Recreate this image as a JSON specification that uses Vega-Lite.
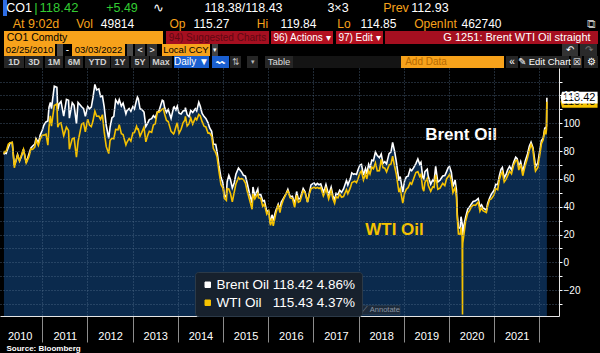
{
"$schema": "https://vega.github.io/schema/vega-lite/v6.json",
"background": "black",
"padding": 0,
"spacing": 0,
"data": {"values": [{"screen": "G 1251"}]},
"datasets": {
"oil": [
{"d":"2010-02-25","Brent":77.5,"WTI":78.2},{"d":"2010-03-01","Brent":78.7,"WTI":79.7},{"d":"2010-03-15","Brent":78.3,"WTI":79.8},{"d":"2010-04-01","Brent":82.7,"WTI":84.9},{"d":"2010-04-15","Brent":85.8,"WTI":86.0},{"d":"2010-05-03","Brent":86.2,"WTI":86.2},{"d":"2010-05-20","Brent":69.6,"WTI":68.0},{"d":"2010-06-01","Brent":72.6,"WTI":72.6},{"d":"2010-06-15","Brent":77.5,"WTI":77.0},{"d":"2010-07-01","Brent":72.9,"WTI":72.9},{"d":"2010-07-15","Brent":75.9,"WTI":76.6},{"d":"2010-08-02","Brent":81.3,"WTI":81.3},{"d":"2010-08-24","Brent":71.6,"WTI":71.6},{"d":"2010-09-15","Brent":78.0,"WTI":76.0},{"d":"2010-10-01","Brent":82.3,"WTI":81.6},{"d":"2010-10-15","Brent":83.7,"WTI":81.2},{"d":"2010-11-01","Brent":85.0,"WTI":82.9},{"d":"2010-11-11","Brent":89.0,"WTI":87.8},{"d":"2010-11-30","Brent":85.9,"WTI":84.1},{"d":"2010-12-15","Brent":91.5,"WTI":88.6},{"d":"2010-12-31","Brent":94.8,"WTI":91.4},
{"d":"2011-01-14","Brent":98.7,"WTI":91.5},{"d":"2011-01-31","Brent":101.0,"WTI":92.2},{"d":"2011-02-15","Brent":101.7,"WTI":84.3},{"d":"2011-02-24","Brent":111.4,"WTI":97.3},{"d":"2011-03-07","Brent":115.0,"WTI":105.4},{"d":"2011-03-16","Brent":110.6,"WTI":98.0},{"d":"2011-04-08","Brent":126.7,"WTI":112.8},{"d":"2011-04-29","Brent":125.9,"WTI":113.9},{"d":"2011-05-06","Brent":109.1,"WTI":97.2},{"d":"2011-05-16","Brent":113.8,"WTI":99.6},{"d":"2011-06-01","Brent":115.7,"WTI":100.3},{"d":"2011-06-23","Brent":105.1,"WTI":91.0},{"d":"2011-07-15","Brent":117.2,"WTI":97.2},{"d":"2011-08-01","Brent":116.5,"WTI":94.9},{"d":"2011-08-08","Brent":103.7,"WTI":81.3},{"d":"2011-08-31","Brent":114.8,"WTI":88.8},{"d":"2011-09-15","Brent":112.9,"WTI":89.4},{"d":"2011-10-04","Brent":99.8,"WTI":75.7},{"d":"2011-10-17","Brent":114.9,"WTI":86.8},{"d":"2011-11-15","Brent":111.9,"WTI":99.4},{"d":"2011-12-01","Brent":110.5,"WTI":100.2},{"d":"2011-12-15","Brent":105.0,"WTI":93.9},
{"d":"2012-01-03","Brent":112.1,"WTI":103.0},{"d":"2012-01-17","Brent":110.4,"WTI":98.7},{"d":"2012-02-01","Brent":111.6,"WTI":97.6},{"d":"2012-02-15","Brent":118.6,"WTI":101.8},{"d":"2012-03-01","Brent":128.0,"WTI":108.8},{"d":"2012-03-15","Brent":124.0,"WTI":105.1},{"d":"2012-04-02","Brent":124.8,"WTI":105.2},{"d":"2012-04-16","Brent":119.2,"WTI":102.9},{"d":"2012-05-01","Brent":119.7,"WTI":106.2},{"d":"2012-05-15","Brent":112.0,"WTI":94.0},{"d":"2012-06-01","Brent":98.4,"WTI":83.2},{"d":"2012-06-21","Brent":89.2,"WTI":78.2},{"d":"2012-07-02","Brent":97.3,"WTI":87.7},{"d":"2012-07-17","Brent":104.0,"WTI":89.2},{"d":"2012-08-01","Brent":105.0,"WTI":88.9},{"d":"2012-08-16","Brent":116.9,"WTI":95.6},{"d":"2012-09-04","Brent":114.2,"WTI":95.3},{"d":"2012-09-14","Brent":117.0,"WTI":99.0},{"d":"2012-10-01","Brent":112.4,"WTI":92.5},{"d":"2012-10-15","Brent":114.6,"WTI":91.9},{"d":"2012-11-07","Brent":106.8,"WTI":84.4},{"d":"2012-11-15","Brent":109.0,"WTI":86.3},{"d":"2012-12-03","Brent":110.6,"WTI":89.1},{"d":"2012-12-17","Brent":108.6,"WTI":87.2},
{"d":"2013-01-02","Brent":112.0,"WTI":93.1},{"d":"2013-01-15","Brent":110.3,"WTI":93.3},{"d":"2013-02-01","Brent":116.8,"WTI":97.8},{"d":"2013-02-08","Brent":118.9,"WTI":95.7},{"d":"2013-02-15","Brent":117.7,"WTI":95.9},{"d":"2013-03-01","Brent":110.4,"WTI":90.7},{"d":"2013-03-15","Brent":110.0,"WTI":93.5},{"d":"2013-04-02","Brent":108.1,"WTI":97.2},{"d":"2013-04-17","Brent":97.7,"WTI":86.7},{"d":"2013-05-01","Brent":100.0,"WTI":91.0},{"d":"2013-05-15","Brent":102.7,"WTI":94.3},{"d":"2013-06-03","Brent":103.3,"WTI":93.5},{"d":"2013-06-17","Brent":105.5,"WTI":98.8},{"d":"2013-07-02","Brent":104.0,"WTI":99.6},{"d":"2013-07-19","Brent":108.1,"WTI":108.1},{"d":"2013-08-01","Brent":108.9,"WTI":107.9},{"d":"2013-08-28","Brent":116.6,"WTI":110.1},{"d":"2013-09-06","Brent":116.1,"WTI":110.5},{"d":"2013-09-16","Brent":111.3,"WTI":106.6},{"d":"2013-10-01","Brent":107.9,"WTI":102.0},{"d":"2013-10-15","Brent":110.0,"WTI":101.2},{"d":"2013-11-07","Brent":103.5,"WTI":94.2},{"d":"2013-11-27","Brent":111.4,"WTI":92.3},{"d":"2013-12-02","Brent":111.8,"WTI":93.1},{"d":"2013-12-16","Brent":109.5,"WTI":97.5},{"d":"2013-12-27","Brent":112.2,"WTI":100.3},
{"d":"2014-01-10","Brent":107.3,"WTI":92.7},{"d":"2014-01-27","Brent":106.7,"WTI":95.7},{"d":"2014-02-12","Brent":108.8,"WTI":100.4},{"d":"2014-02-27","Brent":109.1,"WTI":102.4},{"d":"2014-03-03","Brent":111.2,"WTI":104.9},{"d":"2014-03-17","Brent":106.2,"WTI":98.1},{"d":"2014-04-01","Brent":104.8,"WTI":99.7},{"d":"2014-04-15","Brent":109.3,"WTI":103.8},{"d":"2014-05-01","Brent":107.8,"WTI":99.4},{"d":"2014-05-22","Brent":110.5,"WTI":103.8},{"d":"2014-06-02","Brent":108.9,"WTI":102.5},{"d":"2014-06-19","Brent":115.1,"WTI":106.4},{"d":"2014-07-01","Brent":112.3,"WTI":105.3},{"d":"2014-07-16","Brent":107.1,"WTI":101.2},{"d":"2014-08-01","Brent":104.8,"WTI":97.9},{"d":"2014-08-15","Brent":103.5,"WTI":97.4},{"d":"2014-09-02","Brent":100.3,"WTI":92.9},{"d":"2014-09-15","Brent":96.7,"WTI":92.9},{"d":"2014-10-01","Brent":94.2,"WTI":90.7},{"d":"2014-10-15","Brent":85.0,"WTI":81.8},{"d":"2014-11-03","Brent":84.8,"WTI":78.8},{"d":"2014-11-14","Brent":79.4,"WTI":75.8},{"d":"2014-11-28","Brent":70.2,"WTI":66.2},{"d":"2014-12-15","Brent":61.1,"WTI":55.9},{"d":"2014-12-31","Brent":57.3,"WTI":53.3},
{"d":"2015-01-13","Brent":46.6,"WTI":45.9},{"d":"2015-01-28","Brent":48.5,"WTI":44.5},{"d":"2015-02-03","Brent":57.9,"WTI":53.0},{"d":"2015-02-17","Brent":62.5,"WTI":52.8},{"d":"2015-03-02","Brent":59.5,"WTI":49.6},{"d":"2015-03-17","Brent":53.5,"WTI":43.5},{"d":"2015-04-01","Brent":57.1,"WTI":50.1},{"d":"2015-04-15","Brent":63.3,"WTI":56.4},{"d":"2015-05-06","Brent":67.8,"WTI":60.9},{"d":"2015-05-15","Brent":66.8,"WTI":59.7},{"d":"2015-06-01","Brent":64.9,"WTI":60.2},{"d":"2015-06-15","Brent":62.6,"WTI":59.5},{"d":"2015-07-01","Brent":62.0,"WTI":57.0},{"d":"2015-07-15","Brent":57.1,"WTI":51.4},{"d":"2015-08-03","Brent":49.5,"WTI":45.2},{"d":"2015-08-24","Brent":42.7,"WTI":38.2},{"d":"2015-08-31","Brent":54.2,"WTI":49.2},{"d":"2015-09-15","Brent":47.8,"WTI":45.6},{"d":"2015-10-09","Brent":52.7,"WTI":49.6},{"d":"2015-10-15","Brent":48.7,"WTI":46.4},{"d":"2015-11-02","Brent":48.8,"WTI":46.1},{"d":"2015-11-18","Brent":44.1,"WTI":40.2},{"d":"2015-12-01","Brent":44.4,"WTI":41.9},{"d":"2015-12-21","Brent":36.4,"WTI":34.7},
{"d":"2016-01-04","Brent":37.2,"WTI":36.8},{"d":"2016-01-20","Brent":27.9,"WTI":26.6},{"d":"2016-02-01","Brent":34.2,"WTI":31.6},{"d":"2016-02-11","Brent":30.1,"WTI":26.2},{"d":"2016-03-01","Brent":36.8,"WTI":34.4},{"d":"2016-03-22","Brent":41.8,"WTI":41.5},{"d":"2016-04-05","Brent":37.9,"WTI":35.7},{"d":"2016-04-15","Brent":43.1,"WTI":40.4},{"d":"2016-05-02","Brent":45.8,"WTI":44.8},{"d":"2016-05-26","Brent":49.6,"WTI":49.5},{"d":"2016-06-08","Brent":52.5,"WTI":51.2},{"d":"2016-06-27","Brent":47.2,"WTI":46.3},{"d":"2016-07-15","Brent":47.6,"WTI":45.9},{"d":"2016-08-02","Brent":42.1,"WTI":39.5},{"d":"2016-08-18","Brent":50.9,"WTI":48.2},{"d":"2016-09-01","Brent":45.5,"WTI":43.2},{"d":"2016-09-15","Brent":45.8,"WTI":43.9},{"d":"2016-10-10","Brent":53.1,"WTI":51.4},{"d":"2016-10-25","Brent":50.8,"WTI":50.0},{"d":"2016-11-14","Brent":43.3,"WTI":43.3},{"d":"2016-11-30","Brent":50.5,"WTI":49.4},{"d":"2016-12-12","Brent":55.7,"WTI":52.8},{"d":"2016-12-30","Brent":56.8,"WTI":53.7},
{"d":"2017-01-06","Brent":57.1,"WTI":54.0},{"d":"2017-01-20","Brent":55.5,"WTI":53.2},{"d":"2017-02-01","Brent":56.8,"WTI":53.9},{"d":"2017-02-15","Brent":55.8,"WTI":53.1},{"d":"2017-03-01","Brent":56.4,"WTI":53.8},{"d":"2017-03-22","Brent":50.6,"WTI":47.7},{"d":"2017-04-03","Brent":53.1,"WTI":50.2},{"d":"2017-04-12","Brent":55.9,"WTI":53.1},{"d":"2017-05-04","Brent":48.4,"WTI":45.5},{"d":"2017-05-24","Brent":54.0,"WTI":51.4},{"d":"2017-06-07","Brent":47.9,"WTI":45.7},{"d":"2017-06-21","Brent":44.8,"WTI":42.5},{"d":"2017-07-03","Brent":49.7,"WTI":47.1},{"d":"2017-07-18","Brent":48.8,"WTI":46.4},{"d":"2017-08-01","Brent":51.8,"WTI":49.2},{"d":"2017-08-16","Brent":50.3,"WTI":46.8},{"d":"2017-09-01","Brent":52.8,"WTI":47.3},{"d":"2017-09-25","Brent":59.0,"WTI":52.2},{"d":"2017-10-06","Brent":55.6,"WTI":49.3},{"d":"2017-10-27","Brent":60.4,"WTI":53.9},{"d":"2017-11-07","Brent":64.3,"WTI":57.2},{"d":"2017-11-22","Brent":63.3,"WTI":58.0},{"d":"2017-12-01","Brent":63.7,"WTI":58.4},{"d":"2017-12-15","Brent":63.2,"WTI":57.3},{"d":"2017-12-29","Brent":66.9,"WTI":60.4},
{"d":"2018-01-12","Brent":70.0,"WTI":64.3},{"d":"2018-01-24","Brent":70.5,"WTI":65.6},{"d":"2018-02-09","Brent":62.8,"WTI":59.2},{"d":"2018-02-26","Brent":67.5,"WTI":63.9},{"d":"2018-03-08","Brent":63.6,"WTI":60.1},{"d":"2018-03-23","Brent":70.5,"WTI":65.9},{"d":"2018-04-03","Brent":68.1,"WTI":63.5},{"d":"2018-04-18","Brent":73.5,"WTI":68.5},{"d":"2018-05-01","Brent":73.1,"WTI":67.3},{"d":"2018-05-17","Brent":79.3,"WTI":71.5},{"d":"2018-06-01","Brent":76.8,"WTI":65.8},{"d":"2018-06-18","Brent":75.3,"WTI":65.9},{"d":"2018-07-03","Brent":77.8,"WTI":74.1},{"d":"2018-07-17","Brent":71.2,"WTI":68.1},{"d":"2018-08-01","Brent":72.4,"WTI":67.7},{"d":"2018-08-15","Brent":70.8,"WTI":65.0},{"d":"2018-09-04","Brent":78.2,"WTI":69.9},{"d":"2018-09-20","Brent":79.4,"WTI":70.8},{"d":"2018-10-03","Brent":86.3,"WTI":76.4},{"d":"2018-10-19","Brent":79.8,"WTI":69.1},{"d":"2018-11-01","Brent":72.9,"WTI":63.7},{"d":"2018-11-23","Brent":58.8,"WTI":50.4},{"d":"2018-12-03","Brent":61.7,"WTI":53.0},{"d":"2018-12-24","Brent":50.5,"WTI":42.5},
{"d":"2019-01-08","Brent":58.7,"WTI":49.8},{"d":"2019-01-22","Brent":61.5,"WTI":52.6},{"d":"2019-02-05","Brent":62.0,"WTI":53.7},{"d":"2019-02-22","Brent":67.1,"WTI":57.3},{"d":"2019-03-06","Brent":65.9,"WTI":56.2},{"d":"2019-03-21","Brent":67.9,"WTI":60.0},{"d":"2019-04-09","Brent":71.0,"WTI":64.6},{"d":"2019-04-25","Brent":74.4,"WTI":65.2},{"d":"2019-05-10","Brent":70.6,"WTI":61.7},{"d":"2019-05-20","Brent":72.0,"WTI":63.1},{"d":"2019-06-03","Brent":61.3,"WTI":53.3},{"d":"2019-06-12","Brent":60.0,"WTI":51.1},{"d":"2019-06-21","Brent":65.2,"WTI":57.4},{"d":"2019-07-10","Brent":67.0,"WTI":60.4},{"d":"2019-07-18","Brent":61.9,"WTI":55.3},{"d":"2019-08-07","Brent":56.2,"WTI":51.1},{"d":"2019-08-23","Brent":59.3,"WTI":54.2},{"d":"2019-09-03","Brent":58.3,"WTI":53.9},{"d":"2019-09-16","Brent":69.0,"WTI":62.9},{"d":"2019-10-03","Brent":57.7,"WTI":52.5},{"d":"2019-10-21","Brent":59.0,"WTI":53.3},{"d":"2019-11-12","Brent":62.1,"WTI":56.8},{"d":"2019-11-29","Brent":62.4,"WTI":55.2},{"d":"2019-12-13","Brent":65.2,"WTI":60.1},{"d":"2019-12-27","Brent":68.2,"WTI":61.7},
{"d":"2020-01-06","Brent":68.9,"WTI":63.3},{"d":"2020-01-21","Brent":64.6,"WTI":58.4},{"d":"2020-02-03","Brent":54.5,"WTI":50.1},{"d":"2020-02-20","Brent":59.3,"WTI":53.8},{"d":"2020-03-02","Brent":51.9,"WTI":46.8},{"d":"2020-03-09","Brent":34.4,"WTI":31.1},{"d":"2020-03-18","Brent":24.9,"WTI":20.4},{"d":"2020-04-01","Brent":24.7,"WTI":20.3},{"d":"2020-04-08","Brent":32.8,"WTI":25.1},{"d":"2020-04-17","Brent":28.1,"WTI":18.3},{"d":"2020-04-20","Brent":25.6,"WTI":-37.63},{"d":"2020-04-21","Brent":19.3,"WTI":10.0},{"d":"2020-04-22","Brent":20.4,"WTI":13.8},{"d":"2020-05-01","Brent":26.4,"WTI":19.8},{"d":"2020-05-15","Brent":32.5,"WTI":29.4},{"d":"2020-06-01","Brent":38.3,"WTI":35.4},{"d":"2020-06-15","Brent":39.7,"WTI":37.1},{"d":"2020-07-01","Brent":42.0,"WTI":39.8},{"d":"2020-07-15","Brent":43.8,"WTI":41.2},{"d":"2020-08-03","Brent":44.2,"WTI":41.0},{"d":"2020-08-25","Brent":45.9,"WTI":43.4},{"d":"2020-09-08","Brent":39.8,"WTI":36.8},{"d":"2020-09-21","Brent":41.4,"WTI":39.3},{"d":"2020-10-02","Brent":39.3,"WTI":37.1},{"d":"2020-10-30","Brent":37.5,"WTI":35.8},{"d":"2020-11-09","Brent":42.4,"WTI":40.3},{"d":"2020-11-24","Brent":46.1,"WTI":44.9},{"d":"2020-12-08","Brent":48.8,"WTI":45.6},{"d":"2020-12-31","Brent":51.8,"WTI":48.5},
{"d":"2021-01-13","Brent":56.1,"WTI":53.0},{"d":"2021-01-29","Brent":55.9,"WTI":52.2},{"d":"2021-02-12","Brent":62.4,"WTI":59.5},{"d":"2021-02-25","Brent":66.9,"WTI":63.5},{"d":"2021-03-08","Brent":68.2,"WTI":65.1},{"d":"2021-03-23","Brent":60.8,"WTI":57.8},{"d":"2021-04-07","Brent":63.2,"WTI":59.8},{"d":"2021-04-20","Brent":66.6,"WTI":62.4},{"d":"2021-05-05","Brent":69.0,"WTI":65.6},{"d":"2021-05-21","Brent":66.4,"WTI":63.6},{"d":"2021-06-08","Brent":72.2,"WTI":70.1},{"d":"2021-06-24","Brent":75.6,"WTI":73.3},{"d":"2021-07-06","Brent":74.5,"WTI":73.4},{"d":"2021-07-19","Brent":68.6,"WTI":66.4},{"d":"2021-08-03","Brent":72.4,"WTI":70.6},{"d":"2021-08-20","Brent":65.2,"WTI":62.3},{"d":"2021-09-08","Brent":72.6,"WTI":69.3},{"d":"2021-09-28","Brent":78.1,"WTI":75.3},{"d":"2021-10-12","Brent":83.4,"WTI":80.6},{"d":"2021-10-26","Brent":86.4,"WTI":84.7},{"d":"2021-11-10","Brent":82.6,"WTI":81.3},{"d":"2021-11-26","Brent":72.7,"WTI":68.2},{"d":"2021-12-01","Brent":68.9,"WTI":65.6},{"d":"2021-12-20","Brent":71.5,"WTI":68.2},
{"d":"2022-01-04","Brent":80.0,"WTI":77.0},{"d":"2022-01-18","Brent":87.5,"WTI":85.4},{"d":"2022-02-01","Brent":89.2,"WTI":88.2},{"d":"2022-02-14","Brent":96.5,"WTI":95.5},{"d":"2022-02-23","Brent":96.8,"WTI":92.1},{"d":"2022-02-28","Brent":98.0,"WTI":95.7},{"d":"2022-03-01","Brent":105.0,"WTI":103.4},{"d":"2022-03-02","Brent":112.9,"WTI":110.6},{"d":"2022-03-03","Brent":118.42,"WTI":115.43}
],
"last": [{"series":"WTI","last":115.43},{"series":"Brent","last":118.42}]
},
"vconcat": [
{"hconcat": [
{"width":3,"height":16,"mark":{"type":"text","text":""}},
{"width":4,"height":16,"view":{"fill":"#2f6ee6"},"mark":{"type":"text","text":""}},
{"width":3,"height":16,"mark":{"type":"text","text":""}},
{"width":18,"height":16,"mark":{"type":"text","text":"CO1","color":"white","fontSize":12.5}},
{"width":6,"height":16,"mark":{"type":"text","text":""}},
{"width":4,"height":16,"mark":{"type":"text","text":"|","color":"#33cc33","fontSize":13}},
{"width":42,"height":16,"mark":{"type":"text","text":"118.42","color":"#33cc33","fontSize":13}},
{"width":25,"height":16,"mark":{"type":"text","text":""}},
{"width":34,"height":16,"mark":{"type":"text","text":"+5.49","color":"#33cc33","fontSize":12.5}},
{"width":7,"height":16,"mark":{"type":"text","text":""}},
{"width":25,"height":16,"mark":{"type":"text","text":"∿","color":"white","fontSize":13}},
{"width":30,"height":16,"mark":{"type":"text","text":""}},
{"width":85,"height":16,"mark":{"type":"text","text":"118.38/118.43","color":"white","fontSize":12.5}},
{"width":39,"height":16,"mark":{"type":"text","text":""}},
{"width":26,"height":16,"mark":{"type":"text","text":"3×3","color":"white","fontSize":12.5}},
{"width":29,"height":16,"mark":{"type":"text","text":""}},
{"width":32,"height":16,"mark":{"type":"text","text":"Prev","color":"#f7a21b","fontSize":12.5}},
{"width":36,"height":16,"mark":{"type":"text","text":"112.93","color":"white","fontSize":12.5}},
{"width":152,"height":16,"mark":{"type":"text","text":""}}
], "spacing": 0, "bounds": "flush"},
{"hconcat": [
{"width":10,"height":15,"mark":{"type":"text","text":""}},
{"width":52,"height":15,"mark":{"type":"text","text":"At 9:02d","color":"#f7a21b","fontSize":12.5}},
{"width":12,"height":15,"mark":{"type":"text","text":""}},
{"width":21,"height":15,"mark":{"type":"text","text":"Vol","color":"#f7a21b","fontSize":12}},
{"width":5,"height":15,"mark":{"type":"text","text":""}},
{"width":35,"height":15,"mark":{"type":"text","text":"49814","color":"white","fontSize":12}},
{"width":33,"height":15,"mark":{"type":"text","text":""}},
{"width":19,"height":15,"mark":{"type":"text","text":"Op","color":"#f7a21b","fontSize":12}},
{"width":4,"height":15,"mark":{"type":"text","text":""}},
{"width":41,"height":15,"mark":{"type":"text","text":"115.27","color":"white","fontSize":12}},
{"width":23,"height":15,"mark":{"type":"text","text":""}},
{"width":15,"height":15,"mark":{"type":"text","text":"Hi","color":"#f7a21b","fontSize":12}},
{"width":8,"height":15,"mark":{"type":"text","text":""}},
{"width":41,"height":15,"mark":{"type":"text","text":"119.84","color":"white","fontSize":12}},
{"width":17,"height":15,"mark":{"type":"text","text":""}},
{"width":16,"height":15,"mark":{"type":"text","text":"Lo","color":"#f7a21b","fontSize":12}},
{"width":6,"height":15,"mark":{"type":"text","text":""}},
{"width":41,"height":15,"mark":{"type":"text","text":"114.85","color":"white","fontSize":12}},
{"width":12,"height":15,"mark":{"type":"text","text":""}},
{"width":49,"height":15,"mark":{"type":"text","text":"OpenInt","color":"#f7a21b","fontSize":12}},
{"width":43,"height":15,"mark":{"type":"text","text":"462740","color":"white","fontSize":12}},
{"width":80,"height":15,"mark":{"type":"text","text":""}},
{"width":16,"height":15,"mark":{"type":"text","text":"⧉","color":"#bbbbbb","fontSize":12}},
{"width":1,"height":15,"mark":{"type":"text","text":""}}
], "spacing": 0, "bounds": "flush"},
{"hconcat": [
{"width":4,"height":13,"mark":{"type":"text","text":""}},
{"width":66,"height":13,"view":{"fill":"#f7a21b"},"mark":{"type":"text","text":"CO1 Comdty","color":"black","fontSize":10.5}},
{"width":93,"height":13,"view":{"fill":"#f7a21b"},"mark":{"type":"text","text":""}},
{"width":3,"height":13,"mark":{"type":"text","text":""}},
{"width":103,"height":13,"view":{"fill":"#a50f20"},"mark":{"type":"text","text":"94) Suggested Charts","color":"#600812","fontSize":10}},
{"width":2,"height":13,"mark":{"type":"text","text":""}},
{"width":62,"height":13,"view":{"fill":"#b3101f"},"mark":{"type":"text","text":"96) Actions ▾","color":"white","fontSize":10}},
{"width":3,"height":13,"mark":{"type":"text","text":""}},
{"width":47,"height":13,"view":{"fill":"#b3101f"},"mark":{"type":"text","text":"97) Edit ▾","color":"white","fontSize":10}},
{"width":2,"height":13,"mark":{"type":"text","text":""}},
{"width":55,"height":13,"view":{"fill":"#a50f20"},"mark":{"type":"text","text":""}},
{"width":154,"height":13,"view":{"fill":"#a50f20"},"mark":{"type":"text","text":"G 1251: Brent WTI Oil straight","color":"white","fontSize":11}},
{"width":4,"height":13,"view":{"fill":"#a50f20"},"mark":{"type":"text","text":""}},
{"width":2,"height":13,"mark":{"type":"text","text":""}}
], "spacing": 0, "bounds": "flush"},
{"hconcat": [
{"width":4,"height":12,"mark":{"type":"text","text":""}},
{"width":51,"height":12,"view":{"fill":"#f7a21b"},"mark":{"type":"text","text":"02/25/2010","color":"black","fontSize":9.5}},
{"width":2,"height":12,"mark":{"type":"text","text":""}},
{"width":6,"height":12,"view":{"fill":"#4a4a4a"},"mark":{"type":"text","text":""}},
{"width":9,"height":12,"mark":{"type":"text","text":"-","color":"white","fontSize":10}},
{"width":53,"height":12,"view":{"fill":"#f7a21b"},"mark":{"type":"text","text":"03/03/2022","color":"black","fontSize":9.5}},
{"width":2,"height":12,"mark":{"type":"text","text":""}},
{"width":6,"height":12,"view":{"fill":"#4a4a4a"},"mark":{"type":"text","text":""}},
{"width":2,"height":12,"mark":{"type":"text","text":""}},
{"width":10,"height":12,"view":{"fill":"#333333"},"mark":{"type":"text","text":"<","color":"white","fontSize":9}},
{"width":2,"height":12,"mark":{"type":"text","text":""}},
{"width":10,"height":12,"view":{"fill":"#333333"},"mark":{"type":"text","text":">","color":"white","fontSize":9}},
{"width":5,"height":12,"mark":{"type":"text","text":""}},
{"width":48,"height":12,"view":{"fill":"#f7a21b"},"mark":{"type":"text","text":"Local CCY","color":"black","fontSize":9.5}},
{"width":2,"height":12,"mark":{"type":"text","text":""}},
{"width":6,"height":12,"view":{"fill":"#444444"},"mark":{"type":"text","text":"▾","color":"white","fontSize":7}},
{"width":344,"height":12,"mark":{"type":"text","text":""}},
{"width":16,"height":12,"view":{"fill":"#333333"},"mark":{"type":"text","text":"↶","color":"white","fontSize":10}},
{"width":2,"height":12,"mark":{"type":"text","text":""}},
{"width":17,"height":12,"view":{"fill":"#2a2a2a"},"mark":{"type":"text","text":"↷","color":"#777777","fontSize":10}},
{"width":3,"height":12,"mark":{"type":"text","text":""}}
], "spacing": 0, "bounds": "flush"},
{"hconcat": [
{"width":4,"height":12,"mark":{"type":"text","text":""}},
{"width":20,"height":12,"view":{"fill":"#262626"},"mark":{"type":"text","text":"1D","color":"#d0d0d0","fontSize":9,"fontWeight":"bold"}},
{"width":1,"height":12,"mark":{"type":"text","text":""}},
{"width":18,"height":12,"view":{"fill":"#262626"},"mark":{"type":"text","text":"3D","color":"#d0d0d0","fontSize":9,"fontWeight":"bold"}},
{"width":2,"height":12,"mark":{"type":"text","text":""}},
{"width":18,"height":12,"view":{"fill":"#262626"},"mark":{"type":"text","text":"1M","color":"#d0d0d0","fontSize":9,"fontWeight":"bold"}},
{"width":2,"height":12,"mark":{"type":"text","text":""}},
{"width":18,"height":12,"view":{"fill":"#262626"},"mark":{"type":"text","text":"6M","color":"#d0d0d0","fontSize":9,"fontWeight":"bold"}},
{"width":2,"height":12,"mark":{"type":"text","text":""}},
{"width":25,"height":12,"view":{"fill":"#262626"},"mark":{"type":"text","text":"YTD","color":"#d0d0d0","fontSize":9,"fontWeight":"bold"}},
{"width":1,"height":12,"mark":{"type":"text","text":""}},
{"width":18,"height":12,"view":{"fill":"#262626"},"mark":{"type":"text","text":"1Y","color":"#d0d0d0","fontSize":9,"fontWeight":"bold"}},
{"width":2,"height":12,"mark":{"type":"text","text":""}},
{"width":18,"height":12,"view":{"fill":"#262626"},"mark":{"type":"text","text":"5Y","color":"#d0d0d0","fontSize":9,"fontWeight":"bold"}},
{"width":1,"height":12,"mark":{"type":"text","text":""}},
{"width":22,"height":12,"view":{"fill":"#262626"},"mark":{"type":"text","text":"Max","color":"#d0d0d0","fontSize":9,"fontWeight":"bold"}},
{"width":2,"height":12,"mark":{"type":"text","text":""}},
{"width":35,"height":12,"view":{"fill":"#1a5fd0"},"mark":{"type":"text","text":"Daily ▼","color":"white","fontSize":10}},
{"width":3,"height":12,"mark":{"type":"text","text":""}},
{"width":17,"height":12,"view":{"fill":"#1a5fd0"},"mark":{"type":"text","text":"〰","color":"white","fontSize":9}},
{"width":1,"height":12,"mark":{"type":"text","text":""}},
{"width":11,"height":12,"view":{"fill":"#262626"},"mark":{"type":"text","text":"⇅","color":"#bbbbbb","fontSize":9}},
{"width":6,"height":12,"mark":{"type":"text","text":""}},
{"width":11,"height":12,"view":{"fill":"#262626"},"mark":{"type":"text","text":"▾","color":"#bbbbbb","fontSize":7}},
{"width":7,"height":12,"mark":{"type":"text","text":""}},
{"width":28,"height":12,"view":{"fill":"#262626"},"mark":{"type":"text","text":"Table","color":"#dddddd","fontSize":9.5}},
{"width":108,"height":12,"view":{"fill":"#141414"},"mark":{"type":"text","text":""}},
{"width":50,"height":12,"view":{"fill":"#f7a21b"},"mark":{"type":"text","text":"Add Data","color":"#b86a00","fontSize":10}},
{"width":53,"height":12,"view":{"fill":"#f7a21b"},"mark":{"type":"text","text":""}},
{"width":2,"height":12,"mark":{"type":"text","text":""}},
{"width":12,"height":12,"view":{"fill":"#262626"},"mark":{"type":"text","text":"«","color":"white","fontSize":10}},
{"width":2,"height":12,"mark":{"type":"text","text":""}},
{"width":49,"height":12,"view":{"fill":"#262626"},"mark":{"type":"text","text":"✎ Edit Chart","color":"white","fontSize":9.5}},
{"width":2,"height":12,"mark":{"type":"text","text":""}},
{"width":11,"height":12,"view":{"fill":"#262626"},"mark":{"type":"text","text":"☒","color":"white","fontSize":9}},
{"width":2,"height":12,"mark":{"type":"text","text":""}},
{"width":14,"height":12,"view":{"fill":"#262626"},"mark":{"type":"text","text":"⚙","color":"white","fontSize":10}},
{"width":2,"height":12,"mark":{"type":"text","text":""}}
], "spacing": 0, "bounds": "flush"},
{
"width": 559,
"height": 248,
"data": {"name": "oil"},
"layer": [
{
"mark": {"type": "area", "color": "#0b2a4d"},
"encoding": {
"x": {"field": "d", "type": "temporal",
 "scale": {"type": "utc", "domain": [{"year":2010,"month":1,"date":24,"utc":true},{"year":2022,"month":6,"date":9,"utc":true}]},
 "axis": {"orient": "bottom",
  "values": [{"year":2011,"month":1,"date":1,"utc":true},{"year":2012,"month":1,"date":1,"utc":true},{"year":2013,"month":1,"date":1,"utc":true},{"year":2014,"month":1,"date":1,"utc":true},{"year":2015,"month":1,"date":1,"utc":true},{"year":2016,"month":1,"date":1,"utc":true},{"year":2017,"month":1,"date":1,"utc":true},{"year":2018,"month":1,"date":1,"utc":true},{"year":2019,"month":1,"date":1,"utc":true},{"year":2020,"month":1,"date":1,"utc":true},{"year":2021,"month":1,"date":1,"utc":true},{"year":2022,"month":1,"date":1,"utc":true}],
  "labels": false, "ticks": true, "tickSize": 26, "tickColor": "#8c8c8c",
  "domainColor": "#e6e6e6", "grid": true, "gridColor": "#56708f", "gridDash": [1, 2], "gridOpacity": 0.75, "zindex": 1,
  "title": "Source: Bloomberg", "titleAnchor": "start", "titleAlign": "left", "titleBaseline": "top", "titleColor": "white",
  "titleFontSize": 8, "titleFontWeight": "bold", "titlePadding": 2, "titleX": 6}},
"y": {"field": "Brent", "type": "quantitative",
 "scale": {"domain": [-38.63, 139.78], "nice": false, "zero": false},
 "axis": {"orient": "right", "values": [-30,-20,-10,0,10,20,30,40,50,60,70,80,90,100,110,120,130],
  "labelExpr": "datum.value % 20 == 0 ? datum.label : ''",
  "tickSize": 3, "tickColor": "white", "labelColor": "white", "labelFontSize": 10, "labelPadding": 1,
  "domainColor": "#e6e6e6", "grid": true, "gridColor": "#56708f", "gridDash": [1, 2], "gridOpacity": 0.75,
  "title": null, "zindex": 1}},
"y2": {"datum": -38.63}
}
},
{
"transform": [{"fold": ["Brent", "WTI"], "as": ["series", "price"]}],
"mark": {"type": "line", "strokeWidth": 1.6},
"encoding": {
"x": {"field": "d", "type": "temporal", "scale": {"type": "utc"},
 "axis": {"orient": "bottom",
  "values": [{"year":2010,"month":7,"date":2,"utc":true},{"year":2011,"month":7,"date":2,"utc":true},{"year":2012,"month":7,"date":2,"utc":true},{"year":2013,"month":7,"date":2,"utc":true},{"year":2014,"month":7,"date":2,"utc":true},{"year":2015,"month":7,"date":2,"utc":true},{"year":2016,"month":7,"date":2,"utc":true},{"year":2017,"month":7,"date":2,"utc":true},{"year":2018,"month":7,"date":2,"utc":true},{"year":2019,"month":7,"date":2,"utc":true},{"year":2020,"month":7,"date":2,"utc":true},{"year":2021,"month":7,"date":2,"utc":true}],
  "format": "%Y", "ticks": false, "tickSize": 0, "domain": false, "grid": false,
  "labelColor": "white", "labelFontSize": 11, "labelPadding": 14, "labelFlush": false, "labelOverlap": false, "title": null}},
"y": {"field": "price", "type": "quantitative", "scale": {"domain": [-38.63, 139.78], "nice": false, "zero": false}, "axis": null},
"color": {"field": "series", "type": "nominal",
 "scale": {"domain": ["Brent", "WTI"], "range": ["#ffffff", "#f6c200"]},
 "legend": {"orient": "none", "legendX": 195, "legendY": 272, "title": null,
  "fillColor": "#17212d", "strokeColor": "#2c3a48", "cornerRadius": 3, "padding": 6,
  "symbolType": "square", "symbolSize": 30, "labelColor": "white", "labelFontSize": 13.5, "labelOffset": 2, "rowPadding": 3,
  "labelExpr": "datum.label == 'Brent' ? 'Brent Oil 118.42 4.86%' : 'WTI Oil\u00a0\u00a0\u00a0115.43 4.37%'",
  "encode": {"symbols": {"update": {"fill": {"scale": "color", "field": "value"}, "stroke": {"value": "#777777"}, "strokeWidth": {"value": 1}}}}}}
}
},
{
"data": {"values": [{"label": "Brent Oil"}]},
"mark": {"type": "text", "color": "white", "fontSize": 17, "fontWeight": "bold"},
"encoding": {
"x": {"datum": {"year":2020,"month":4,"date":8,"utc":true}, "type": "temporal", "scale": {"type": "utc"}, "axis": null},
"y": {"datum": 91.6, "type": "quantitative", "scale": {"domain": [-38.63, 139.78], "nice": false, "zero": false}, "axis": null},
"text": {"field": "label"}
}
},
{
"data": {"values": [{"label": "WTI Oil"}]},
"mark": {"type": "text", "color": "#f6c200", "fontSize": 17, "fontWeight": "bold"},
"encoding": {
"x": {"datum": {"year":2018,"month":10,"date":18,"utc":true}, "type": "temporal", "scale": {"type": "utc"}, "axis": null},
"y": {"datum": 23.2, "type": "quantitative", "scale": {"domain": [-38.63, 139.78], "nice": false, "zero": false}, "axis": null},
"text": {"field": "label"}
}
},
{
"data": {"values": [{"label": "Annotate"}]},
"mark": {"type": "point", "shape": "M-1,-0.24L1,-0.24L1,0.24L-1,0.24Z", "size": 1444, "filled": true, "opacity": 1, "color": "#1d2a3a", "stroke": "#3a4a5c", "strokeWidth": 0.5},
"encoding": {
"x": {"datum": {"year":2018,"month":7,"date":1,"utc":true}, "type": "temporal", "scale": {"type": "utc"}, "axis": null},
"y": {"datum": -34.3, "type": "quantitative", "scale": {"domain": [-38.63, 139.78], "nice": false, "zero": false}, "axis": null}
}
},
{
"data": {"values": [{"label": "⟋ Annotate"}]},
"mark": {"type": "text", "color": "#8a96a4", "fontSize": 7.5},
"encoding": {
"x": {"datum": {"year":2018,"month":7,"date":1,"utc":true}, "type": "temporal", "scale": {"type": "utc"}, "axis": null},
"y": {"datum": -34.3, "type": "quantitative", "scale": {"domain": [-38.63, 139.78], "nice": false, "zero": false}, "axis": null},
"text": {"field": "label"}
}
},
{
"data": {"name": "last"},
"transform": [{"filter": "datum.series == 'WTI'"}],
"mark": {"type": "point", "shape": "M-0.92,-0.32L1,-0.32L1,0.32L-0.92,0.32L-1,0Z", "size": 1369, "filled": true, "opacity": 1, "color": "#f6c200", "strokeWidth": 0},
"encoding": {
"x": {"datum": {"year":2022,"month":11,"date":18,"utc":true}, "type": "temporal", "scale": {"type": "utc"}, "axis": null},
"y": {"field": "last", "type": "quantitative", "scale": {"domain": [-38.63, 139.78], "nice": false, "zero": false}, "axis": null}
}
},
{
"data": {"name": "last"},
"transform": [{"filter": "datum.series == 'WTI'"}],
"mark": {"type": "text", "color": "black", "fontSize": 11},
"encoding": {
"x": {"datum": {"year":2022,"month":11,"date":18,"utc":true}, "type": "temporal", "scale": {"type": "utc"}, "axis": null},
"y": {"field": "last", "type": "quantitative", "scale": {"domain": [-38.63, 139.78], "nice": false, "zero": false}, "axis": null},
"text": {"field": "last", "type": "quantitative", "format": ".2f"}
}
},
{
"data": {"name": "last"},
"transform": [{"filter": "datum.series == 'Brent'"}],
"mark": {"type": "point", "shape": "M-0.92,-0.32L1,-0.32L1,0.32L-0.92,0.32L-1,0Z", "size": 1369, "filled": true, "opacity": 1, "color": "#ffffff", "strokeWidth": 0},
"encoding": {
"x": {"datum": {"year":2022,"month":11,"date":18,"utc":true}, "type": "temporal", "scale": {"type": "utc"}, "axis": null},
"y": {"field": "last", "type": "quantitative", "scale": {"domain": [-38.63, 139.78], "nice": false, "zero": false}, "axis": null}
}
},
{
"data": {"name": "last"},
"transform": [{"filter": "datum.series == 'Brent'"}],
"mark": {"type": "text", "color": "black", "fontSize": 11},
"encoding": {
"x": {"datum": {"year":2022,"month":11,"date":18,"utc":true}, "type": "temporal", "scale": {"type": "utc"}, "axis": null},
"y": {"field": "last", "type": "quantitative", "scale": {"domain": [-38.63, 139.78], "nice": false, "zero": false}, "axis": null},
"text": {"field": "last", "type": "quantitative", "format": ".2f"}
}
}
],
"resolve": {"axis": {"x": "independent", "y": "independent"}}
}
],
"config": {
"view": {"stroke": null},
"concat": {"spacing": 0},
"text": {"font": "Liberation Sans"},
"axis": {"labelFont": "Liberation Sans", "titleFont": "Liberation Sans"},
"legend": {"labelFont": "Liberation Sans"}
}
}
